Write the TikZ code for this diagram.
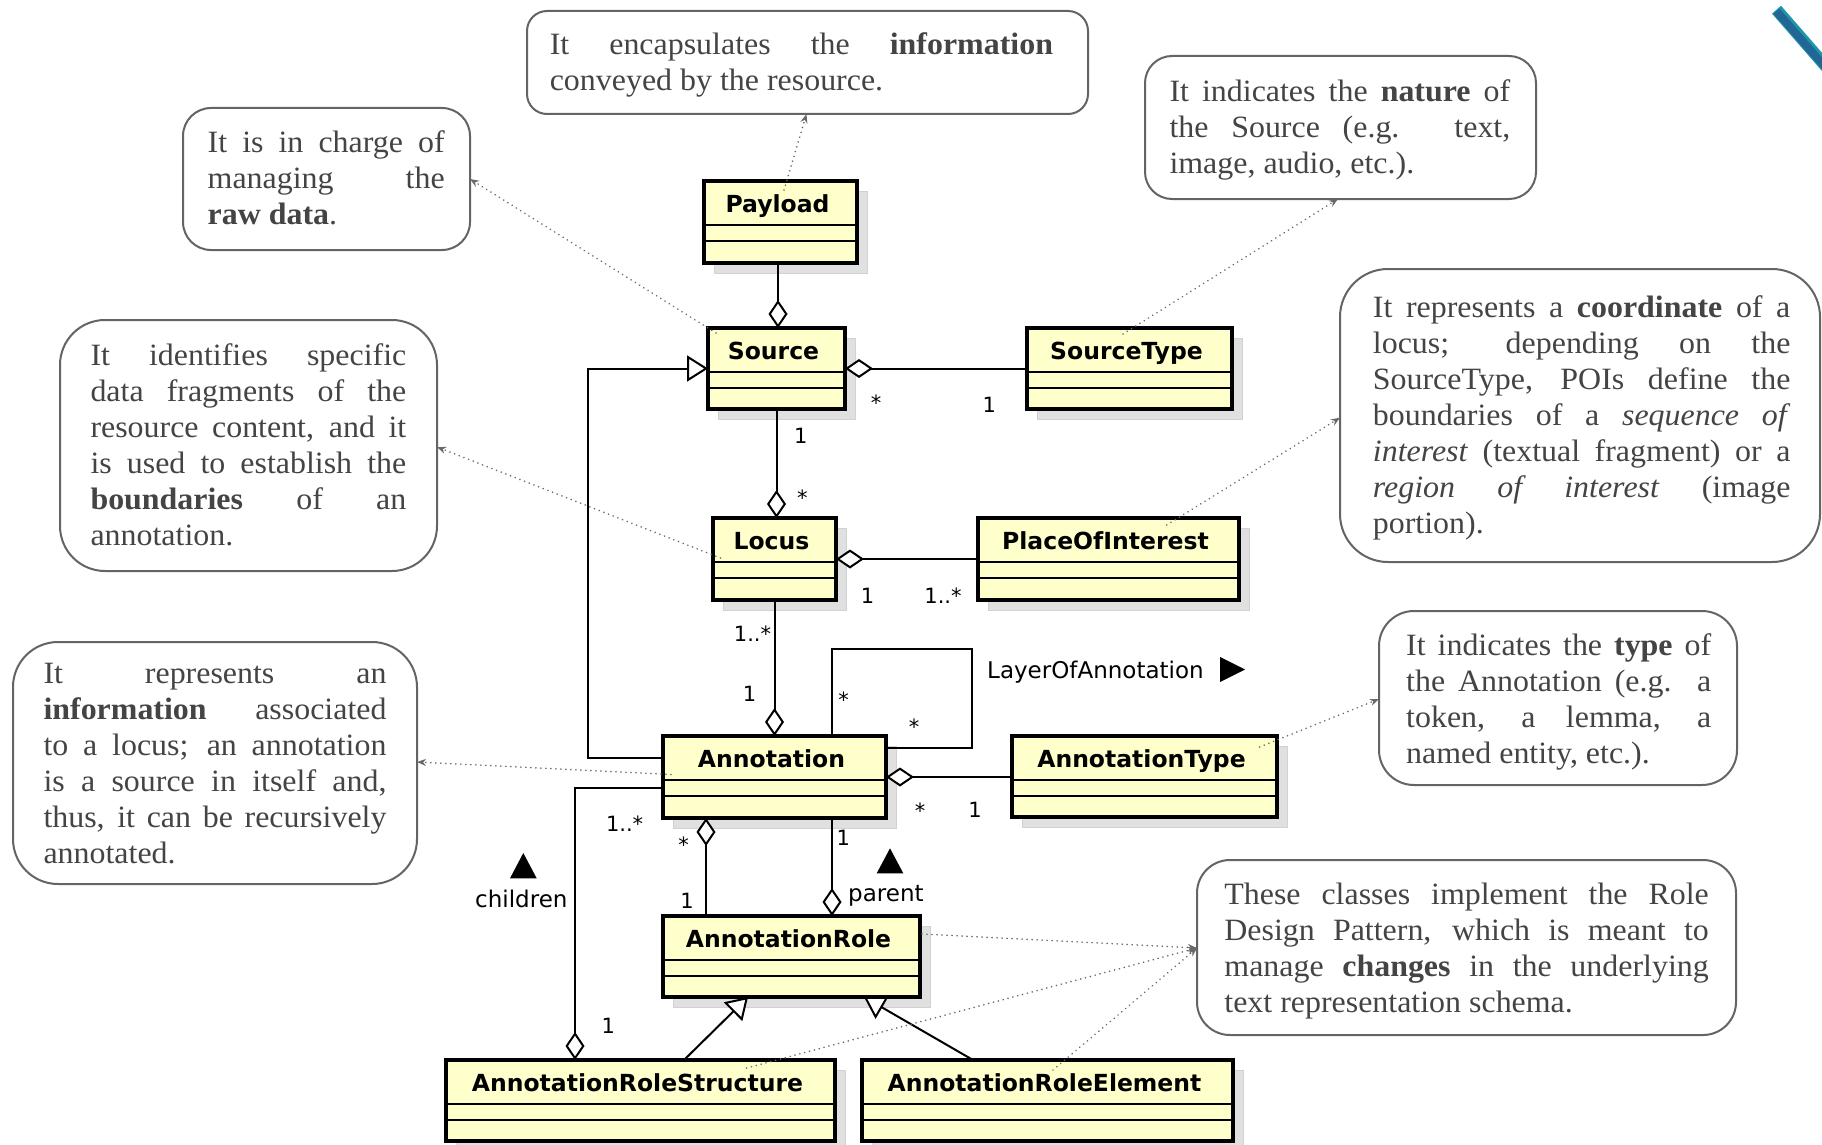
\documentclass[tikz,border=0pt]{standalone}
\usepackage{fontspec}
\setmainfont{Liberation Serif}[FakeStretch=1.03]
\newfontfamily\clsfont{DejaVu Sans}
\usetikzlibrary{arrows.meta,calc,fit}
\pgfdeclarelayer{shadow}
\pgfdeclarelayer{conn}
\pgfdeclarelayer{top}
\pgfsetlayers{shadow,conn,main,top}
\definecolor{clsfill}{RGB}{255,255,204}
\definecolor{shadowc}{RGB}{224,224,224}
\definecolor{notegray}{RGB}{68,68,68}
\definecolor{noteborder}{RGB}{100,100,100}
\definecolor{dotc}{RGB}{105,105,105}
\definecolor{stripeedge}{RGB}{30,150,170}
\definecolor{stripeblue}{RGB}{34,102,150}
\newcommand{\notefont}{\fontsize{31}{36}\selectfont}
\newcommand{\namefont}{\clsfont\bfseries\fontsize{23.5}{28}\selectfont}
\newcommand{\multfont}{\clsfont\fontsize{21}{25}\selectfont}
\newcommand{\rolefont}{\clsfont\fontsize{23}{28}\selectfont}
\newcommand{\jl}[2]{\hbox to #1pt{\strut #2}}
\newcommand{\lastl}[1]{\hbox{\strut #1}}
\newcommand{\umlclass}[6]{%
  \begin{pgfonlayer}{shadow}
    \fill[shadowc, draw=black!18, line width=1pt] (#2+10,#3+10) rectangle (#4+10,#5+10);
  \end{pgfonlayer}
  \coordinate (#1-a) at (#2,#3);
  \coordinate (#1-b) at (#4,#5);
  \node[clsbox, fit=(#1-a)(#1-b)] (#1) {};
  \draw[sepline] ($(#1.north west)+(0,44)$) -- ($(#1.north east)+(0,44)$);
  \draw[sepline] ($(#1.north west)+(0,60)$) -- ($(#1.north east)+(0,60)$);
  \node[clsname] (#1-name) at ($(#1.north)+(-3,31)$) {#6};
}
\newcommand{\umlnote}[6]{%
  \coordinate (#1-a) at (#2,#3);
  \coordinate (#1-b) at (#4,#5);
  \node[notebox, rounded corners=#6pt, fit=(#1-a)(#1-b)] (#1) {};
}
\begin{document}
\begin{tikzpicture}[x=1pt,y=-1pt,
  clsbox/.style={draw=black, line width=3.5pt, fill=clsfill, inner sep=0pt, outer sep=0pt},
  sepline/.style={draw=black, line width=2.3pt},
  clsname/.style={font=\namefont, inner sep=0pt, anchor=base},
  notebox/.style={draw=noteborder, line width=2pt, fill=white, inner sep=0pt, outer sep=0pt},
  notetext/.style={font=\notefont, text=notegray, inner sep=0pt, anchor=north west},
  assoc/.style={draw=black, line width=2pt},
  aggend/.style={-{Diamond[fill=white, length=28pt, width=19pt]}},
  aggstart/.style={{Diamond[fill=white, length=28pt, width=19pt]}-},
  genend/.style={-{Triangle[fill=white, length=21pt, width=26pt]}},
  noteconn/.style={draw=dotc, line width=1.8pt, dash pattern=on 0.01pt off 5pt, line cap=round,
     -{Stealth[length=9pt,width=7pt]}},
  mult/.style={font=\multfont, inner sep=0pt, anchor=center},
  role/.style={font=\rolefont, inner sep=0pt, anchor=base west},
]
\begin{pgfonlayer}{shadow}
\fill[white] (0,0) rectangle (1822,1145);
\end{pgfonlayer}
\useasboundingbox (0,0) rectangle (1822,1145);

% decorative stripe
\draw[stripeedge, line width=12pt] (1776.5,9.7) -- ++(68,78);
\draw[stripeblue, line width=8pt] (1776.5,11.2) -- ++(68,78);

% classes
\umlclass{payload}{704}{181}{857}{263}{Payload}
\umlclass{source}{708}{328}{845}{409}{Source}
\umlclass{sourcetype}{1027}{328}{1232}{409}{SourceType}
\umlclass{locus}{713}{518}{836}{600}{Locus}
\umlclass{poi}{978}{518}{1239}{600}{PlaceOfInterest}
\umlclass{annotation}{663}{736}{886}{818}{Annotation}
\umlclass{annotype}{1012}{736}{1277}{817}{AnnotationType}
\umlclass{arole}{663}{916}{920}{997}{AnnotationRole}
\umlclass{ars}{446}{1060}{835}{1141}{AnnotationRoleStructure}
\umlclass{are}{862}{1060}{1233}{1141}{AnnotationRoleElement}

% UML connectors
\begin{pgfonlayer}{conn}
\draw[assoc, aggend] ($(payload.south)+(-2.5,0)$) -- ($(source.north)+(1.5,0)$);
\draw[assoc, aggstart] (source.east) -- (sourcetype.west);
\draw[assoc, aggend] (source.south) -- (source.south |- locus.north);
\draw[assoc, genend] ($(annotation.west)+(0,-19)$) -- ++(-75,0) |- (source.west);
\draw[assoc, aggstart] (locus.east) -- (poi.west);
\draw[assoc, aggend] (locus.south) -- (locus.south |- annotation.north);
\draw[assoc] ($(annotation.north)+(57.5,0)$) -- ++(0,-87.5) -- ++(139.5,0) -- ++(0,99.5)
   -- ($(annotation.east)+(0,-29)$);
\draw[assoc, aggstart] (annotation.east) -- (annotation.east -| annotype.west);
\coordinate (c9) at ($(annotation.south)+(-68.5,0)$);
\draw[assoc, aggstart] (c9) -- (c9 |- arole.north);
\coordinate (c10) at ($(annotation.south)+(57.5,0)$);
\draw[assoc, aggend] (c10) -- (c10 |- arole.north);
\draw[assoc, aggend] ($(annotation.west)+(0,11)$) -| ($(ars.north)+(-65.5,0)$);
\draw[assoc, genend] ($(ars.north)+(43.5,0)$) -- ($(arole.south)+(-43.5,0)$);
\draw[assoc, genend] ($(are.north)+(-74.5,0)$) -- ($(arole.south)+(72.5,0)$);
\end{pgfonlayer}

% multiplicities and role names
\node[mult] (m1) at (876,403) {*};
\node[mult] (m2) at (989.4,405) {1};
\node[mult] (m3) at (800.7,436) {1};
\node[mult] (m4) at (802.4,498) {*};
\node[mult] (m5) at (867.5,595.5) {1};
\node[mult] (m6) at (943,595.5) {1..*};
\node[mult] (m7) at (752.5,634) {1..*};
\node[mult] (m8) at (749.6,694) {1};
\node[mult] (m9) at (843.7,699.5) {*};
\node[mult] (m10) at (914,726.7) {*};
\node[mult] (m11) at (920,810.5) {*};
\node[mult] (m12) at (975,810) {1};
\node[mult] (m13) at (683.5,844.5) {*};
\node[mult] (m14) at (687,901) {1};
\node[mult] (m15) at (843.3,838.3) {1};
\node[mult] (m16) at (624.6,823.7) {1..*};
\node[mult] (m17) at (608.3,1026) {1};
\node[role] (r1) at (848,901.7) {parent};
\node[role] (r2) at (475,907.3) {children};
\node[role] (r3) at (987,678) {LayerOfAnnotation};
\fill (876.7,873.3) -- (903.3,873.3) -- (890,848.3) -- cycle;
\fill (510,878.3) -- (536.7,878.3) -- (523.3,853) -- cycle;
\fill (1220,657) -- (1245,669.5) -- (1220,682) -- cycle;

% notes
\umlnote{n1}{527}{11}{1088}{114}{20}
\umlnote{n2}{183}{108}{470}{250}{28}
\umlnote{n3}{1145}{56}{1536}{199}{27}
\umlnote{n4}{60}{320}{437}{571}{45}
\umlnote{n5}{1340}{269}{1820}{562}{48}
\umlnote{n6}{13}{642}{417}{884}{45}
\umlnote{n7}{1379}{611}{1737}{785}{35}
\umlnote{n8}{1197}{860}{1736}{1035}{33}

\node[notetext] (n1t) at (549.6,29.5) {\vbox{%
 \jl{503.2}{It encapsulates the \textbf{information}}%
 \lastl{conveyed by the resource.}}};
\node[notetext] (n2t) at (207.5,127.3) {\vbox{%
 \jl{237}{It is in charge of}%
 \jl{237}{managing the}%
 \lastl{\textbf{raw data}.}}};
\node[notetext] (n3t) at (1169.3,76.1) {\vbox{%
 \jl{340.8}{It indicates the \textbf{nature} of}%
 \jl{340.8}{the Source (e.g. text,}%
 \lastl{image, audio, etc.).}}};
\node[notetext] (n4t) at (90.3,339.8) {\vbox{%
 \jl{315.8}{It identifies specific}%
 \jl{315.8}{data fragments of the}%
 \jl{315.8}{resource content, and it}%
 \jl{315.8}{is used to establish the}%
 \jl{315.8}{\textbf{boundaries} of an}%
 \lastl{annotation.}}};
\node[notetext] (n5t) at (1372.7,292.2) {\vbox{%
 \jl{417.5}{It represents a \textbf{coordinate} of a}%
 \jl{417.5}{locus; depending on the}%
 \jl{417.5}{SourceType, POIs define the}%
 \jl{417.5}{boundaries of a \textit{sequence of}}%
 \jl{417.5}{\textit{interest} (textual fragment) or a}%
 \jl{417.5}{\textit{region of interest} (image}%
 \lastl{portion).}}};
\node[notetext] (n6t) at (43.3,658.3) {\vbox{%
 \jl{343}{It represents an}%
 \jl{343}{\textbf{information} associated}%
 \jl{343}{to a locus; an annotation}%
 \jl{343}{is a source in itself and,}%
 \jl{343}{thus, it can be recursively}%
 \lastl{annotated.}}};
\node[notetext] (n7t) at (1406,630.2) {\vbox{%
 \jl{305}{It indicates the \textbf{type} of}%
 \jl{305}{the Annotation (e.g. a}%
 \jl{305}{token, a lemma, a}%
 \lastl{named entity, etc.).}}};
\node[notetext] (n8t) at (1224.2,879.2) {\vbox{%
 \jl{484.4}{These classes implement the Role}%
 \jl{484.4}{Design Pattern, which is meant to}%
 \jl{484.4}{manage \textbf{changes} in the underlying}%
 \lastl{text representation schema.}}};

% note connectors
\begin{pgfonlayer}{top}
\draw[noteconn] ($(payload.north west)+(80,9)$) -- ($(n1.south west)+(279.5,0)$);
\draw[noteconn] ($(source.north west)+(8,5)$) -- (n2.east);
\draw[noteconn] ($(sourcetype.north west)+(96,6)$) -- ($(n3.south west)+(193,0)$);
\draw[noteconn] ($(locus.north west)+(7.5,40)$) -- ($(n4.north east)+(0,127)$);
\draw[noteconn] ($(poi.north west)+(188.7,7)$) -- ($(n5.north west)+(0,148.7)$);
\draw[noteconn] ($(annotation.north west)+(8,38.5)$) -- ($(n6.north east)+(0,120)$);
\draw[noteconn] ($(annotype.north west)+(247.6,11)$) -- ($(n7.north west)+(0,88)$);
\draw[noteconn] ($(arole.north east)+(2,18)$) -- ($(n8.north west)+(0,88)$);
\draw[noteconn] ($(ars.north west)+(300.6,8)$) -- ($(n8.north west)+(0,88)$);
\draw[noteconn] ($(are.north west)+(191,10)$) -- ($(n8.north west)+(0,88)$);
\end{pgfonlayer}
\end{tikzpicture}
\end{document}
